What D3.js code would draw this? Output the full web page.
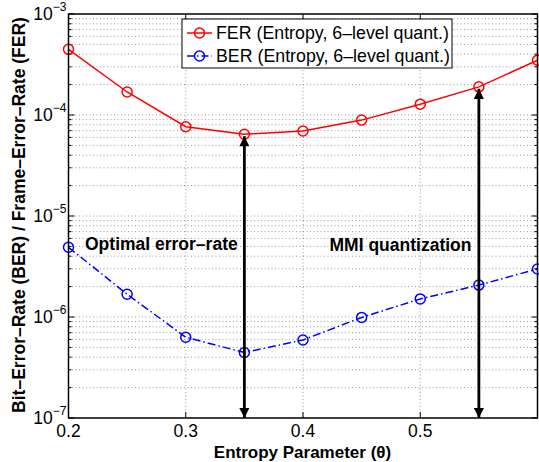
<!DOCTYPE html>
<html>
<head>
<meta charset="utf-8">
<script src="https://cdn.jsdelivr.net/npm/d3@7"></script>
<style>
  body { margin: 0; background: #fff; }
  text { font-family: "Liberation Sans", Arial, sans-serif; }
</style>
</head>
<body>
<div id="chart"></div>
<script>
const width = 539
const height = 462
const margin = { top: 14, bottom: 44, left: 68.5, right: 1.5 }

// Datos
const theta = [0.2, 0.25, 0.3, 0.35, 0.4, 0.45, 0.5, 0.55, 0.6]
const fer = [4.47e-4, 1.69e-4, 7.65e-5, 6.45e-5, 6.95e-5, 8.9e-5, 1.28e-4, 1.9e-4, 3.48e-4]
const ber = [4.9e-6, 1.68e-6, 6.3e-7, 4.45e-7, 5.92e-7, 9.9e-7, 1.51e-6, 2.07e-6, 2.99e-6]
const xTicks = [0.2, 0.3, 0.4, 0.5]
const yExps = [-3, -4, -5, -6, -7]
const arrowsAt = [0.35, 0.55]
const legendLabels = ["FER (Entropy, 6\u2013level quant.)", "BER (Entropy, 6\u2013level quant.)"]

const svg = d3.select("#chart").append("svg")
  .attr("width", width).attr("height", height)

const defs = svg.append("defs")
defs.append("marker").attr("id", "head")
  .attr("viewBox", "0 0 10 10").attr("refX", 10).attr("refY", 5)
  .attr("markerWidth", 4).attr("markerHeight", 3.6).attr("orient", "auto-start-reverse")
  .attr("markerUnits", "strokeWidth")
  .append("path").attr("d", "M0,0L10,5L0,10z").attr("fill", "#000")

const iw = width - margin.left - margin.right
const ih = height - margin.top - margin.bottom

const x = d3.scaleLinear().domain([0.2, 0.6]).range([0, iw])
const y = d3.scaleLog().domain([1e-7, 1e-3]).range([ih, 0])

const g = svg.append("g").attr("transform", `translate(${margin.left}, ${margin.top})`)

// grid
const minors = []
yExps.slice(1).forEach(e => { for (let k = 1; k <= 9; k++) minors.push(k * Math.pow(10, e)) })
const gridY = minors.filter(v => v > 1e-7 && v < 1e-3)
g.selectAll(".gy").data(gridY).join("line")
  .attr("x1", 0).attr("x2", iw).attr("y1", d => y(d)).attr("y2", d => y(d))
  .attr("stroke", "#999").attr("stroke-width", 1).attr("stroke-dasharray", "1,2.5")
g.selectAll(".gx").data(xTicks.slice(1)).join("line")
  .attr("x1", d => x(d)).attr("x2", d => x(d)).attr("y1", 0).attr("y2", ih)
  .attr("stroke", "#999").attr("stroke-width", 1).attr("stroke-dasharray", "1,2.5")

// ticks (inside, both sides)
const allY = minors.concat([1e-3]).filter(v => v >= 1e-7 && v <= 1e-3)
allY.forEach(v => {
  const major = Math.abs(Math.log10(v) - Math.round(Math.log10(v))) < 1e-9
  const len = major ? 6 : 3
  g.append("line").attr("x1", 0).attr("x2", len).attr("y1", y(v)).attr("y2", y(v)).attr("stroke", "#000")
  g.append("line").attr("x1", iw).attr("x2", iw - len).attr("y1", y(v)).attr("y2", y(v)).attr("stroke", "#000")
})
xTicks.forEach(v => {
  g.append("line").attr("x1", x(v)).attr("x2", x(v)).attr("y1", ih).attr("y2", ih - 6).attr("stroke", "#000")
  g.append("line").attr("x1", x(v)).attr("x2", x(v)).attr("y1", 0).attr("y2", 6).attr("stroke", "#000")
})

// labels
g.selectAll(".xl").data(xTicks).join("text")
  .attr("x", d => x(d)).attr("y", ih + 19)
  .attr("text-anchor", "middle").attr("font-size", 17.5).text(d => d.toFixed(1))

yExps.forEach(e => {
  const t = g.append("text").attr("x", -2).attr("y", y(Math.pow(10, e)) + 6)
    .attr("text-anchor", "end").attr("font-size", 17.5)
  t.append("tspan").text("10")
  t.append("tspan").attr("dy", -9).attr("font-size", 12).text("\u2212" + (-e))
})

// series
const line = d3.line().x((d, i) => x(theta[i])).y(d => y(d))
g.append("path").datum(fer).attr("d", line)
  .attr("fill", "none").attr("stroke", "#ff0000").attr("stroke-width", 1.5)
g.append("path").datum(ber).attr("d", line)
  .attr("fill", "none").attr("stroke", "#0000ff").attr("stroke-width", 1.5)
  .attr("stroke-dasharray", "8,3,1.5,3")
g.selectAll(".fm").data(fer).join("circle")
  .attr("cx", (d, i) => x(theta[i])).attr("cy", d => y(d)).attr("r", 5)
  .attr("fill", "none").attr("stroke", "#ff0000").attr("stroke-width", 1.5)
g.selectAll(".bm").data(ber).join("circle")
  .attr("cx", (d, i) => x(theta[i])).attr("cy", d => y(d)).attr("r", 5)
  .attr("fill", "none").attr("stroke", "#0000ff").attr("stroke-width", 1.5)

// arrows
arrowsAt.forEach(t => {
  const i = theta.findIndex(v => Math.abs(v - t) < 1e-9)
  g.append("line").attr("x1", x(t)).attr("x2", x(t))
    .attr("y1", y(fer[i]) + 2).attr("y2", ih)
    .attr("stroke", "#000").attr("stroke-width", 2.8)
    .attr("marker-start", "url(#head)").attr("marker-end", "url(#head)")
})

// annotations
g.append("text").attr("x", 85 - margin.left).attr("y", 250 - margin.top)
  .attr("font-size", 17.5).attr("font-weight", "bold").text("Optimal error\u2013rate")
g.append("text").attr("x", 400.5 - margin.left).attr("y", 251 - margin.top)
  .attr("text-anchor", "middle")
  .attr("font-size", 17.5).attr("font-weight", "bold").text("MMI quantization")

// box
g.append("rect").attr("width", iw).attr("height", ih)
  .attr("fill", "none").attr("stroke", "#000").attr("stroke-width", 1.5)

// legend
const lg = svg.append("g").attr("transform", "translate(182, 19)")
lg.append("rect").attr("width", 270).attr("height", 49)
  .attr("fill", "#fff").attr("stroke", "#000").attr("stroke-width", 1)
const cols = ["#ff0000", "#0000ff"]
legendLabels.forEach((lab, i) => {
  const yy = 14 + i * 23
  lg.append("line").attr("x1", 5).attr("x2", 30).attr("y1", yy).attr("y2", yy)
    .attr("stroke", cols[i]).attr("stroke-width", 1.5)
    .attr("stroke-dasharray", i ? "7,3,1.5,3" : null)
  lg.append("circle").attr("cx", 17.5).attr("cy", yy).attr("r", 5)
    .attr("fill", "none").attr("stroke", cols[i]).attr("stroke-width", 1.5)
  lg.append("text").attr("x", 34).attr("y", yy + 6).attr("font-size", 17.8).text(lab)
})

// titles
svg.append("text").attr("x", margin.left + x(0.4) - 0.5).attr("y", 457.5)
  .attr("text-anchor", "middle").attr("font-size", 17).attr("font-weight", "bold")
  .text("Entropy Parameter (\u03b8)")
svg.append("text").attr("transform", "translate(25, 215) rotate(-90)")
  .attr("text-anchor", "middle").attr("font-size", 17.5).attr("font-weight", "bold")
  .text("Bit\u2013Error\u2013Rate (BER) / Frame\u2013Error\u2013Rate (FER)")
</script>
</body>
</html>
